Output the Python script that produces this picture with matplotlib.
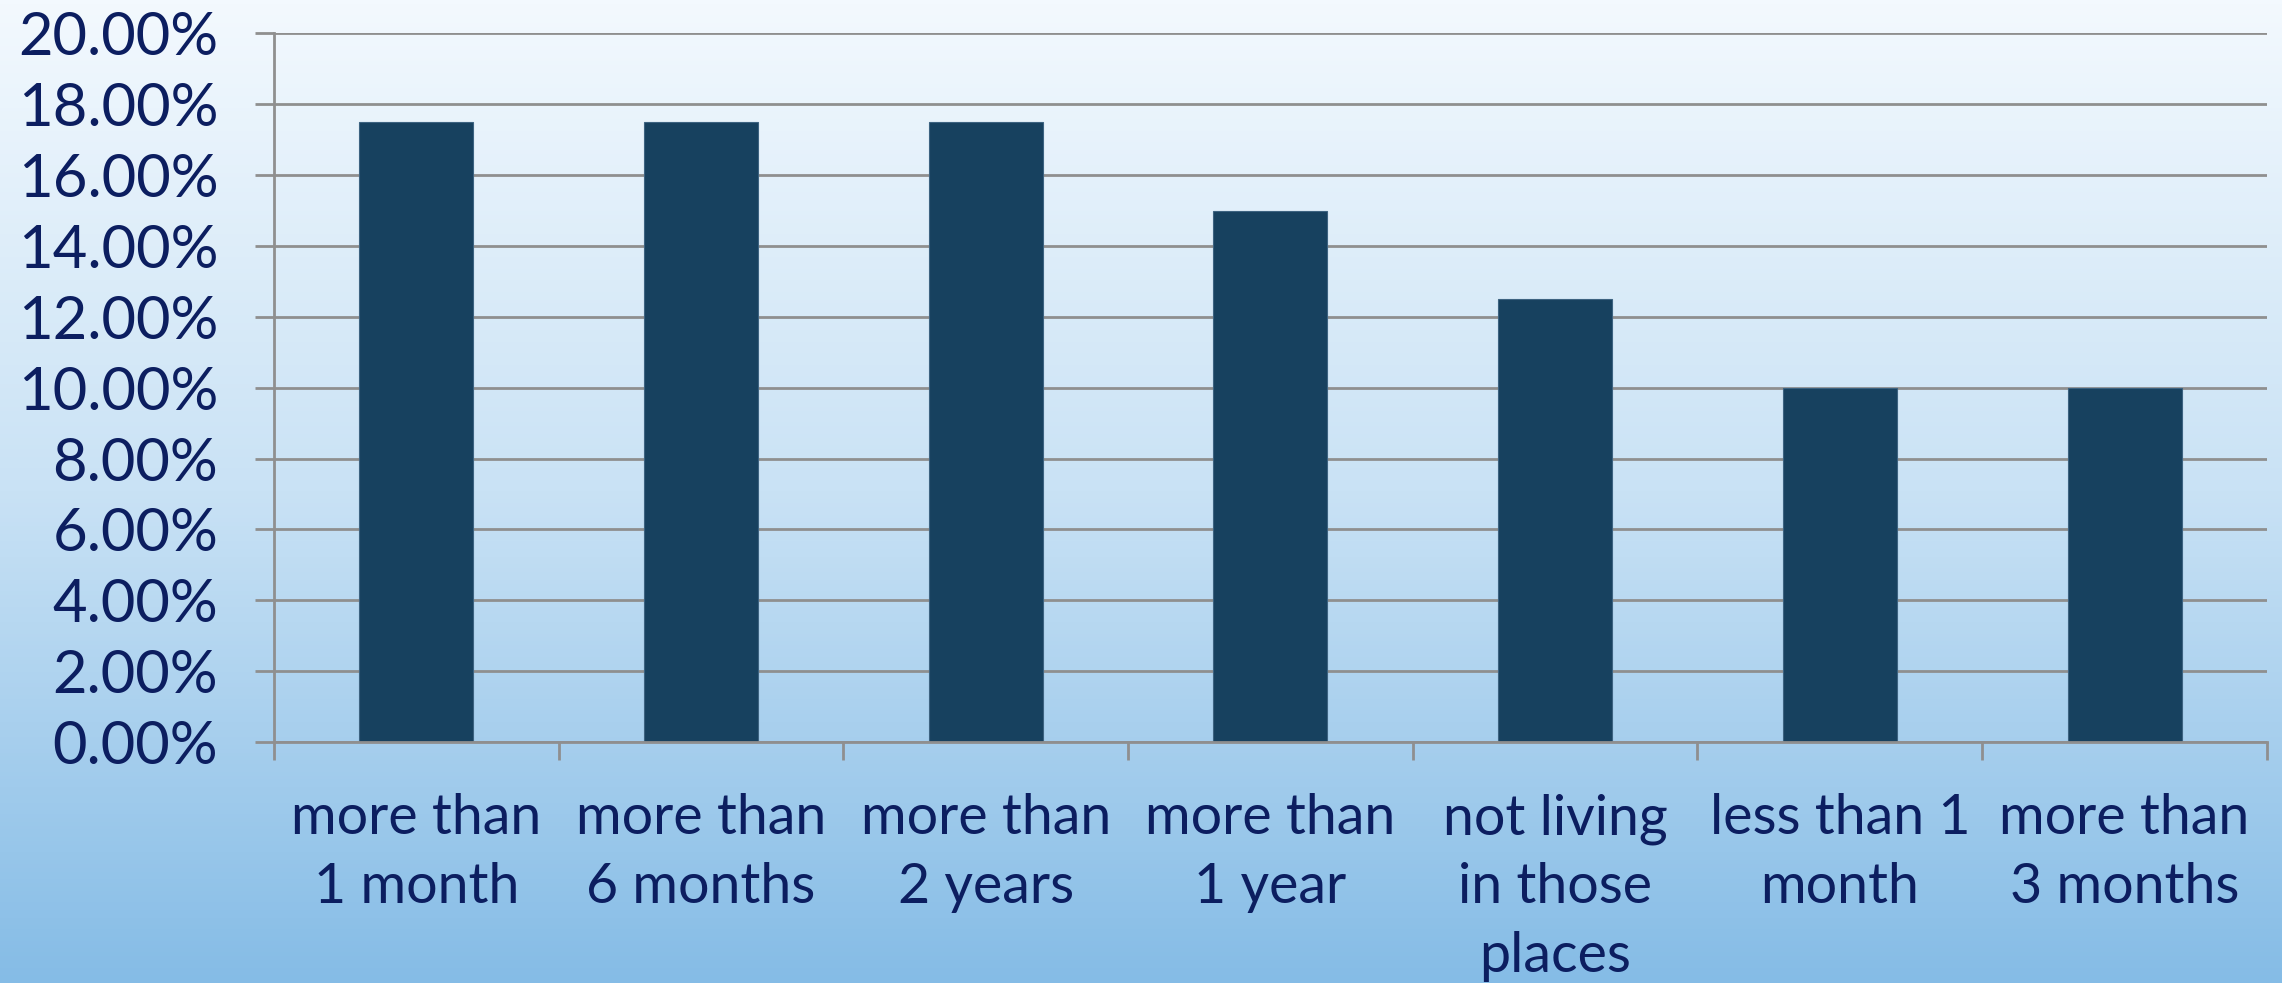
import numpy as np
import matplotlib
matplotlib.use("Agg")
import matplotlib.pyplot as plt
from matplotlib.colors import LinearSegmentedColormap
from matplotlib.ticker import FuncFormatter, FixedLocator

categories = ["more than\n1 month", "more than\n6 months", "more than\n2 years",
              "more than\n1 year", "not living\nin those\nplaces", "less than 1\nmonth",
              "more than\n3 months"]
values = [17.5, 17.5, 17.5, 15.0, 12.5, 10.0, 10.0]
y_ticks = [0, 2, 4, 6, 8, 10, 12, 14, 16, 18, 20]

text_color = "#0c1e60"
bar_color = "#17415f"
grid_color = "#8f8f8f"

plt.rcParams['font.family'] = ['Lato', 'DejaVu Sans']

fig = plt.figure(figsize=(22.82, 9.83), dpi=100)

# background gradient
bg = fig.add_axes([0, 0, 1, 1], zorder=-10)
cmap = LinearSegmentedColormap.from_list("bg", ["#f3f9fe", "#c9e2f5", "#85bce6"])
grad = np.linspace(0, 1, 256).reshape(-1, 1)
bg.imshow(grad, aspect="auto", cmap=cmap, extent=[0, 1, 0, 1], origin="upper")
bg.set_axis_off()

ax = fig.add_axes([0.120, 0.2452, 0.8734, 0.7208])
ax.patch.set_alpha(0)
x = np.arange(len(categories))
ax.bar(x, values, width=0.4, color=bar_color, edgecolor="#3d6381", linewidth=0.8, zorder=3)

ax.set_xlim(-0.5, len(categories) - 0.5)
ax.set_ylim(0, 20)
ax.yaxis.set_major_locator(FixedLocator(y_ticks))
ax.yaxis.set_major_formatter(FuncFormatter(lambda v, p: f"{v:.2f}%"))
ax.grid(axis="y", color=grid_color, linewidth=2, zorder=1)

for s in ["top", "right"]:
    ax.spines[s].set_visible(False)
for s in ["left", "bottom"]:
    ax.spines[s].set_color(grid_color)
    ax.spines[s].set_linewidth(2)
    ax.spines[s].set_zorder(4)

ax.tick_params(axis="y", direction="out", length=14, width=2, color=grid_color,
               labelsize=43, labelcolor=text_color, pad=26)

ax.set_xticks(x)
ax.set_xticklabels(categories, fontsize=40, color=text_color, linespacing=1.43,
                   multialignment="center")
ax.tick_params(axis="x", which="major", length=0, pad=37)
ax.set_xticks(np.arange(-0.5, len(categories)), minor=True)
ax.tick_params(axis="x", which="minor", direction="out", length=13, width=2, color=grid_color)

fig.savefig("out.png", dpi=100)
